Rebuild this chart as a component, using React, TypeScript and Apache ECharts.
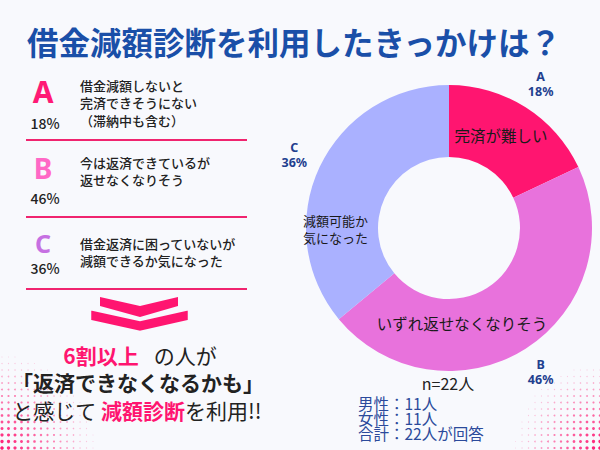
import React, { useEffect, useRef } from 'react';
import * as echarts from 'echarts';

// ---- data ----
const title = '借金減額診断を利用したきっかけは？';
const categories = ['A', 'B', 'C'];
const values = [18, 46, 36];
const sliceTexts = ['完済が難しい', 'いずれ返せなくなりそう', '減額可能か\n気になった'];
const reasonLines = [
  ['借金減額しないと', '完済できそうにない', '（滞納中も含む）'],
  ['今は返済できているが', '返せなくなりそう'],
  ['借金返済に困っていないが', '減額できるか気になった'],
];
const sampleText = 'n=22人';
const breakdown = ['男性：11人', '女性：11人', '合計：22人が回答'];
const summaryLine1 = ['6割以上', 'の人が'];
const summaryLine2 = '「返済できなくなるかも」';
const summaryLine3 = ['と感じて ', '減額診断', 'を利用!!'];

// ---- styles / layout ----
const BG = '#f8f9fd';
const PINK = '#ff1570';
const sliceColors = ['#ff1570', '#e872dc', '#aab1ff'];
const letterColors = ['#ff1a75', '#ff68c6', '#c670e2'];
const letterSizes = [30, 28, 25];
const letterY = [91, 168, 243];
const pctY = [123, 198, 268];
const textY0 = [85, 162, 243];
const sepY = [140, 217, 289];
const sliceLabelShift = [[-7, 0], [-46, 2], [-14, 48]];
const sliceLabelSize = [15.5, 15.5, 13];
const JP = '"Noto Sans CJK JP", "Noto Sans", sans-serif';

function makeDots(cx: number, cy: number, R: number, step: number) {
  const els: any[] = [];
  for (let x = 2; x <= 600; x += step) {
    for (let y = 448; y >= 300; y -= step) {
      const d = Math.hypot(x - cx, y - cy);
      if (d < R) {
        const t = 1 - d / R;
        els.push({
          type: 'circle',
          silent: true,
          shape: { cx: x, cy: y, r: 0.5 + 1.3 * t },
          style: { fill: PINK, opacity: 0.15 + 0.85 * t },
        });
      }
    }
  }
  return els;
}

function txt(x: number, y: number, text: string, style: any) {
  return {
    type: 'text',
    x,
    y,
    silent: true,
    style: {
      text,
      fontFamily: JP,
      textAlign: 'left',
      align: 'left',
      textVerticalAlign: 'middle',
      verticalAlign: 'middle',
      ...style,
    },
  };
}

export default function App() {
  const ref = useRef<HTMLDivElement>(null);
  useEffect(() => {
    if (!ref.current) return;
    const chart = echarts.init(ref.current, null, { renderer: 'svg' });
    const graphics: any[] = [];
    graphics.push(...makeDots(0, 450, 95, 6.5));
    graphics.push(...makeDots(600, 450, 85, 6.5));

    graphics.push(
      txt(294, 41, title, {
        fontSize: 31.5,
        fontWeight: 'bold',
        fill: '#1a4fa8',
        textAlign: 'center',
        align: 'center',
      })
    );

    categories.forEach((c, i) => {
      graphics.push(
        txt(43, letterY[i], c, {
          fontSize: letterSizes[i],
          lineHeight: letterSizes[i] * 0.8,
          fontWeight: 'bold',
          fontFamily: '"Noto Sans", sans-serif',
          fill: letterColors[i],
          textAlign: 'center',
          align: 'center',
        })
      );
      graphics.push(
        txt(45, pctY[i], values[i] + '%', {
          fontSize: 14,
          lineHeight: 16,
          fontWeight: 500,
          fill: '#222',
          textAlign: 'center',
          align: 'center',
        })
      );
      reasonLines[i].forEach((line, j) => {
        graphics.push(
          txt(80, textY0[i] + j * 17.8, line, {
            fontSize: 13,
            lineHeight: 16,
            fontWeight: 500,
            fill: '#222',
          })
        );
      });
      graphics.push({
        type: 'line',
        silent: true,
        shape: { x1: 26, y1: sepY[i], x2: 247, y2: sepY[i] },
        style: { stroke: '#f0246f', lineWidth: 2 },
      });
    });

    // chevrons
    graphics.push({
      type: 'polygon',
      silent: true,
      shape: {
        points: [
          [100, 297], [140, 306], [178, 297], [178, 306], [140, 317], [100, 306],
        ],
      },
      style: { fill: PINK },
    });
    graphics.push({
      type: 'polygon',
      silent: true,
      shape: {
        points: [
          [90, 309], [140, 320], [189, 309], [189, 321], [140, 332], [90, 321],
        ],
      },
      style: { fill: PINK, stroke: BG, lineWidth: 2.5 },
    });

    // summary text
    graphics.push({
      type: 'text',
      x: 140,
      y: 355,
      silent: true,
      style: {
        text: `{p|${summaryLine1[0]}}{g|}{n|${summaryLine1[1]}}`,
        textAlign: 'center',
        align: 'center',
        textVerticalAlign: 'middle',
        verticalAlign: 'middle',
        rich: {
          p: { fontFamily: JP, fontSize: 21, fontWeight: 'bold', fill: PINK, color: PINK },
          g: { width: 15 },
          n: { fontFamily: JP, fontSize: 21, fill: '#222', color: '#222' },
        },
      },
    });
    graphics.push(
      txt(138, 382, summaryLine2, {
        fontSize: 21,
        fontWeight: 'bold',
        fill: '#222',
        textAlign: 'center',
        align: 'center',
      })
    );
    graphics.push({
      type: 'text',
      x: 137,
      y: 410,
      silent: true,
      style: {
        text: `{n|${summaryLine3[0]}}{p|${summaryLine3[1]}}{n|${summaryLine3[2]}}`,
        textAlign: 'center',
        align: 'center',
        textVerticalAlign: 'middle',
        verticalAlign: 'middle',
        rich: {
          p: { fontFamily: JP, fontSize: 21, fontWeight: 'bold', fill: PINK, color: PINK },
          n: { fontFamily: JP, fontSize: 21, fill: '#222', color: '#222' },
        },
      },
    });

    // n and breakdown
    graphics.push(
      txt(448, 383, sampleText, { fontSize: 16, fill: '#222', textAlign: 'center', align: 'center' })
    );
    graphics.push(
      txt(358, 417.5, breakdown.join('\n'), { fontSize: 15.5, lineHeight: 15, fill: '#2b4a9b' })
    );

    const center = [449, 228];
    chart.setOption({
      animation: false,
      backgroundColor: BG,
      graphic: { elements: graphics },
      series: [
        {
          type: 'pie',
          silent: true,
          center,
          radius: [71, 143],
          startAngle: 90,
          clockwise: true,
          data: categories.map((c, i) => ({
            name: c,
            value: values[i],
            itemStyle: { color: sliceColors[i] },
            label: { formatter: sliceTexts[i], fontSize: sliceLabelSize[i] },
          })),
          label: {
            show: true,
            position: 'inside',
            color: '#1a1a1a',
            fontFamily: JP,
            lineHeight: 17,
          },
          labelLine: { show: false },
          labelLayout: (p: any) => ({
            dx: sliceLabelShift[p.dataIndex][0],
            dy: sliceLabelShift[p.dataIndex][1],
          }),
          emphasis: { disabled: true },
        },
        {
          type: 'pie',
          silent: true,
          center,
          radius: [160, 176],
          startAngle: 90,
          clockwise: true,
          data: categories.map((c, i) => ({ name: c, value: values[i] })),
          itemStyle: { color: 'rgba(0,0,0,0)' },
          label: {
            show: true,
            position: 'inside',
            formatter: '{b}\n{c}%',
            color: '#1f3f8f',
            fontWeight: 'bold',
            fontSize: 12.5,
            lineHeight: 15,
            fontFamily: '"Noto Sans", sans-serif',
          },
          labelLine: { show: false },
          emphasis: { disabled: true },
        },
      ],
    });
    return () => chart.dispose();
  }, []);
  return (
    <div
      ref={ref}
      style={{ position: 'fixed', left: 0, top: 0, width: 600, height: 450 }}
    />
  );
}
